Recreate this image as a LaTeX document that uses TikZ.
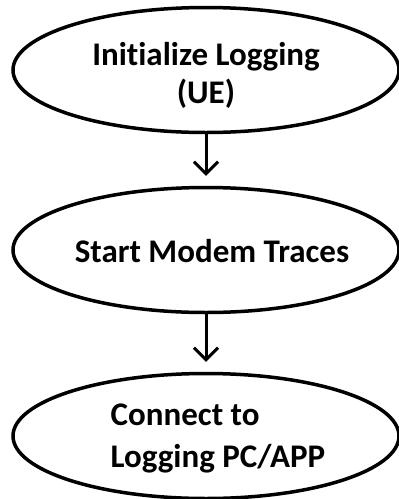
\documentclass[tikz,border=0pt]{standalone}
\usepackage{fontspec}
\setmainfont{Carlito}[Ligatures={NoCommon}]
\usetikzlibrary{shapes.geometric,arrows.meta}
\begin{document}
\begin{tikzpicture}[x=1pt,y=-1pt,
  stage/.style={draw=black,line width=3.5pt,ellipse,minimum width=386pt,minimum height=125pt,inner sep=0pt},
  caption/.style={font=\bfseries\fontsize{33}{38}\selectfont,inner sep=0pt},
  flow/.style={line width=3pt,-{Straight Barb[length=12pt,width=24pt]}}]
  \useasboundingbox (0,0) rectangle (399,499);
  % three stages, top to bottom
  \node[stage] (init) at (206,70) {};
  \node[stage] (trace) at (206,250) {};
  \node[stage] (conn) at (206,436) {};
  % stage captions
  \node[caption,align=center] (tinit) at (206,75) {Initialize Logging\\(UE)};
  \node[caption] (ttrace) at (212,251) {Start Modem Traces};
  \node[caption,align=left,font=\bfseries\fontsize{33}{42}\selectfont] (tconn) at (218,438) {Connect to\\Logging PC/APP};
  % connectors stop short of the next stage
  \draw[flow] (init.south) -- ([yshift=10pt]trace.north);
  \draw[flow] (trace.south) -- ([yshift=10pt]conn.north);
\end{tikzpicture}
\end{document}
